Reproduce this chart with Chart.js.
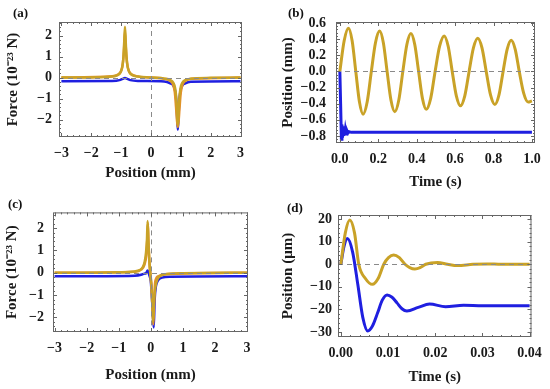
<!doctype html>
<html>
<head>
<meta charset="utf-8" />
<title>Force and position</title>
<script src="https://cdn.jsdelivr.net/npm/chart.js"></script>
<style>
body{margin:0;background:#fff;width:550px;height:389px;position:relative;overflow:hidden;font-family:"Liberation Serif",serif}
.panel{position:absolute}
.lab{position:absolute;font-weight:bold;font-size:13px;color:#111;line-height:1}
</style>
</head>
<body>
<div class="panel" style="left:0;top:0;width:275px;height:195px"><canvas id="ca"></canvas></div>
<div class="panel" style="left:275px;top:0;width:275px;height:195px"><canvas id="cb"></canvas></div>
<div class="panel" style="left:0;top:195px;width:275px;height:194px"><canvas id="cc"></canvas></div>
<div class="panel" style="left:275px;top:195px;width:275px;height:194px"><canvas id="cd"></canvas></div>
<div class="lab" style="left:13px;top:6px">(a)</div>
<div class="lab" style="left:288px;top:6px">(b)</div>
<div class="lab" style="left:8px;top:197px">(c)</div>
<div class="lab" style="left:287px;top:201px">(d)</div>
<script>
// ---- panel (a): force vs position, magnets at +/-0.9 mm
const posA_gold = [-3, -2, -1.3, -1.12, -1.02, -0.96, -0.92, -0.895, -0.87, -0.845, -0.82, -0.78, -0.72, -0.62, -0.44, 0, 0.47, 0.65, 0.75, 0.81, 0.85, 0.875, 0.9, 0.925, 0.95, 0.99, 1.05, 1.15, 1.33, 2, 3];
const forceA_gold = [0, 0.01, 0.05, 0.12, 0.25, 0.5, 1.0, 1.7, 2.42, 1.7, 1.0, 0.5, 0.25, 0.12, 0.05, 0, -0.05, -0.12, -0.25, -0.5, -1.0, -1.7, -2.28, -1.7, -1.0, -0.5, -0.25, -0.12, -0.05, -0.01, 0];
const posA_orange = [-3, -1.3, -1.1, -1.0, -0.94, -0.9, -0.87, -0.84, -0.8, -0.74, -0.64, -0.44, 0.44, 0.64, 0.74, 0.8, 0.84, 0.87, 0.9, 0.93, 0.96, 1.0, 1.06, 1.16, 1.36, 3];
const forceA_orange = [0, 0.06, 0.15, 0.32, 0.7, 1.4, 2.2, 1.4, 0.7, 0.32, 0.15, 0.06, -0.06, -0.15, -0.32, -0.7, -1.4, -2.0, -2.35, -2.0, -1.4, -0.7, -0.32, -0.15, -0.06, 0];
const posA_blue = [-3, -1.3, -1.05, -0.95, -0.87, -0.79, -0.69, -0.44, 0.44, 0.65, 0.75, 0.81, 0.85, 0.875, 0.9, 0.925, 0.95, 0.99, 1.05, 1.15, 1.33, 3];
const forceA_blue = [-0.17, -0.16, -0.12, -0.06, -0.02, -0.06, -0.12, -0.16, -0.18, -0.27, -0.38, -0.62, -1.1, -1.8, -2.48, -1.8, -1.1, -0.62, -0.38, -0.27, -0.2, -0.17];

// ---- panel (b): position vs time
const timeB_gold = [0, 0.0225, 0.045, 0.064, 0.083, 0.102, 0.121, 0.1425, 0.164, 0.1855, 0.207, 0.2265, 0.246, 0.266, 0.286, 0.307, 0.328, 0.349, 0.37, 0.39, 0.41, 0.43, 0.45, 0.473, 0.496, 0.5195, 0.543, 0.564, 0.585, 0.6065, 0.628, 0.6505, 0.673, 0.6955, 0.718, 0.74, 0.762, 0.7845, 0.807, 0.8285, 0.85, 0.871, 0.892, 0.913, 0.934, 0.957, 0.98, 1.0];
const posB_gold = [0, 0.38, 0.535, 0.38, 0, -0.376, -0.53, -0.376, 0, 0.355, 0.50, 0.355, 0, -0.355, -0.50, -0.355, 0, 0.334, 0.47, 0.334, 0, -0.334, -0.47, -0.334, 0, 0.312, 0.44, 0.312, 0, -0.302, -0.425, -0.302, 0, 0.291, 0.41, 0.291, 0, -0.291, -0.41, -0.291, 0, 0.273, 0.385, 0.273, 0, -0.27, -0.38, -0.365];
const timeB_blue = [0, 0.004, 0.008, 0.011, 0.014, 0.017, 0.02, 0.023, 0.026, 0.029, 0.033, 0.037, 0.042, 0.048, 0.06, 1.0];
const posB_blue = [0, -0.4, -0.84, -0.66, -0.82, -0.68, -0.8, -0.7, -0.78, -0.72, -0.775, -0.735, -0.765, -0.748, -0.755, -0.755];

// ---- panel (c): force vs position, magnets near centre
const posC_gold = [-3, -1, -0.5, -0.35, -0.25, -0.19, -0.15, -0.12, -0.1, -0.08, -0.05, -0.02, 0.02, 0.05, 0.07, 0.09, 0.12, 0.16, 0.22, 0.32, 0.5, 1, 3];
const forceC_gold = [0, 0.02, 0.06, 0.12, 0.25, 0.5, 0.9, 1.5, 2.31, 1.5, 0.6, 0, -0.6, -1.5, -2.19, -1.5, -0.9, -0.5, -0.25, -0.12, -0.06, -0.02, 0];
const posC_orange = [-3, -0.5, -0.3, -0.2, -0.14, -0.11, -0.09, -0.07, -0.04, 0, 0.04, 0.08, 0.1, 0.13, 0.18, 0.25, 0.4, 3];
const forceC_orange = [0, 0.05, 0.14, 0.35, 0.8, 1.5, 2.2, 1.3, 0.4, -0.2, -1.2, -2.3, -1.4, -0.5, -0.22, -0.15, -0.07, 0];
const posC_blue = [-3, -0.5, -0.3, -0.2, -0.15, -0.1, -0.05, 0, 0.05, 0.09, 0.12, 0.16, 0.22, 0.35, 0.6, 3];
const forceC_blue = [-0.16, -0.13, -0.09, -0.04, -0.02, 0.1, -0.1, -0.4, -1.5, -2.45, -1.2, -0.6, -0.35, -0.22, -0.18, -0.16];

// ---- panel (d): position (um) vs time, short time scale
const timeD_gold = [0, 0.00095, 0.0019, 0.0029, 0.0038, 0.0052, 0.0067, 0.0079, 0.0091, 0.0101, 0.0112, 0.0124, 0.0136, 0.0146, 0.0157, 0.0168, 0.018, 0.0205, 0.0226, 0.0247, 0.028, 0.031, 0.034, 0.04];
const posD_gold = [0, 13.9, 19.6, 13.9, 0, -6.3, -8.9, -6.3, 0, 2.9, 4.1, 2.9, 0, -1.5, -2.1, -1.5, 0, 0.8, 0, -0.6, 0, 0.15, 0, 0];
const timeD_blue = [0, 0.0007, 0.0014, 0.0025, 0.0036, 0.00465, 0.0057, 0.00673, 0.0078, 0.00878, 0.0098, 0.01085, 0.0119, 0.01295, 0.014, 0.0164, 0.0188, 0.0222, 0.026, 0.03, 0.04];
const posD_blue = [0, 8.1, 11.4, 5.4, -9, -23.5, -29.5, -27.2, -21.5, -15.9, -13.6, -14.6, -17.1, -19.7, -20.7, -19.1, -17.6, -18.8, -18.1, -18.4, -18.4];

// tick labels
const ticksForcePos = [-3, -2, -1, 0, 1, 2, 3];
const ticksForce = [-2, -1, 0, 1, 2];
const ticksTimeB = [0, 0.2, 0.4, 0.6, 0.8, 1.0];
const ticksPosB = [-0.8, -0.6, -0.4, -0.2, 0, 0.2, 0.4, 0.6];
const ticksTimeD = [0, 0.01, 0.02, 0.03, 0.04];
const ticksPosD = [-30, -20, -10, 0, 10, 20];

const GOLD = '#c9a227', ORANGE = '#e8902a', BLUE = '#1f1fe0';
const FONT = { family: '"Liberation Serif", "Times New Roman", serif', size: 14, weight: 'bold' };
const TFONT = { family: '"Liberation Serif", "Times New Roman", serif', size: 15, weight: 'bold' };

function pts(xs, ys) { return xs.map((x, i) => ({ x, y: ys[i] })); }
function minus(s) { return s.replace('-', '\u2212'); }

// frame with inward ticks + dashed zero lines, Mathematica style
const framePlugin = {
  id: 'frame',
  afterDatasetsDraw(chart, args, o) {
    const { ctx, chartArea: a, scales: { x, y } } = chart;
    ctx.save();
    ctx.strokeStyle = '#8a8a8a';
    ctx.lineWidth = 1;
    ctx.setLineDash([5, 4]);
    const y0 = Math.round(y.getPixelForValue(0)) + 0.5;
    ctx.beginPath(); ctx.moveTo(a.left, y0); ctx.lineTo(a.right, y0); ctx.stroke();
    if (o.vline) {
      const x0 = Math.round(x.getPixelForValue(0)) + 0.5;
      ctx.beginPath(); ctx.moveTo(x0, a.top); ctx.lineTo(x0, a.bottom); ctx.stroke();
    }
    ctx.setLineDash([]);
    ctx.strokeStyle = '#666';
    ctx.strokeRect(a.left + 0.5, a.top + 0.5, a.right - a.left - 1, a.bottom - a.top - 1);
    const tick = (scale, vals, len, horiz) => {
      vals.forEach(v => {
        const p = Math.round(scale.getPixelForValue(v)) + 0.5;
        ctx.beginPath();
        if (horiz) {
          if (p < a.left || p > a.right) return;
          ctx.moveTo(p, a.bottom); ctx.lineTo(p, a.bottom - len);
          ctx.moveTo(p, a.top); ctx.lineTo(p, a.top + len);
        } else {
          if (p < a.top || p > a.bottom) return;
          ctx.moveTo(a.left, p); ctx.lineTo(a.left + len, p);
          ctx.moveTo(a.right, p); ctx.lineTo(a.right - len, p);
        }
        ctx.stroke();
      });
    };
    const minors = (vals, n) => {
      const out = [];
      for (let i = -1; i < vals.length; i++)
        for (let k = 1; k < n; k++) out.push(vals[0] + (i + k / n) * (vals[1] - vals[0]));
      return out;
    };
    tick(x, o.xt, 4, true); tick(x, minors(o.xt, 5), 2, true);
    tick(y, o.yt, 4, false); tick(y, minors(o.yt, 5), 2, false);
    ctx.restore();
  }
};

function panel(id, p) {
  new Chart(document.getElementById(id), {
    type: 'line',
    data: { datasets: p.sets },
    plugins: [framePlugin],
    options: {
      responsive: true, maintainAspectRatio: false, animation: false,
      layout: { padding: { left: 0, top: p.top, right: p.right, bottom: 0 } },
      elements: { point: { radius: 0 }, line: { borderWidth: p.lw, cubicInterpolationMode: 'monotone' } },
      plugins: { legend: { display: false }, tooltip: { enabled: false }, frame: { vline: p.vline, xt: p.xt, yt: p.yt } },
      scales: {
        x: {
          type: 'linear', min: p.xmin, max: p.xmax,
          afterBuildTicks: s => { s.ticks = p.xt.map(v => ({ value: v })); },
          afterFit: s => { s.height = p.h; },
          grid: { display: false, drawTicks: false }, border: { display: false },
          ticks: { font: FONT, color: '#1a1a1a', padding: 8, autoSkip: false, maxRotation: 0, callback: p.xf },
          title: { display: true, text: p.xtitle, font: TFONT, color: '#1a1a1a', padding: { top: 0, bottom: p.xtp } }
        },
        y: {
          type: 'linear', min: p.ymin, max: p.ymax,
          afterBuildTicks: s => { s.ticks = p.yt.map(v => ({ value: v })); },
          afterFit: s => { s.width = p.w; },
          grid: { display: false, drawTicks: false }, border: { display: false },
          ticks: { font: FONT, color: '#1a1a1a', padding: p.ytpad, autoSkip: false, callback: p.yf },
          title: { display: true, text: p.ytitle, font: TFONT, color: '#1a1a1a', padding: { top: p.ytp, bottom: 0 } }
        }
      }
    }
  });
}

const intFmt = v => minus(String(v));
const forceTitle = 'Force (10\u207B\u00B2\u00B3 N)';

panel('ca', {
  sets: [
    { data: pts(posA_gold, forceA_gold), borderColor: GOLD },
    { data: pts(posA_orange, forceA_orange), borderColor: ORANGE },
    { data: pts(posA_blue, forceA_blue), borderColor: BLUE }
  ],
  lw: 2.5, top: 22, right: 33, w: 59, h: 58, vline: true,
  xmin: -3.08, xmax: 3.05, ymin: -2.83, ymax: 2.65,
  xt: ticksForcePos, yt: ticksForce, xf: intFmt, yf: intFmt,
  xtitle: 'Position (mm)', ytitle: forceTitle, xtp: 13, ytp: 4, ytpad: 7
});

panel('cb', {
  sets: [
    { data: pts(timeB_gold, posB_gold), borderColor: GOLD },
    { data: pts(timeB_blue, posB_blue), borderColor: BLUE, cubicInterpolationMode: 'default', tension: 0 }
  ],
  lw: 3, top: 22, right: 15, w: 61, h: 52, vline: false,
  xmin: -0.02, xmax: 1.016, ymin: -0.887, ymax: 0.612,
  xt: ticksTimeB, yt: ticksPosB, xf: v => v.toFixed(1), yf: v => minus(v.toFixed(1)),
  xtitle: 'Time (s)', ytitle: 'Position (mm)', xtp: 4, ytp: 4, ytpad: 10
});

panel('cc', {
  sets: [
    { data: pts(posC_gold, forceC_gold), borderColor: GOLD },
    { data: pts(posC_orange, forceC_orange), borderColor: ORANGE },
    { data: pts(posC_blue, forceC_blue), borderColor: BLUE }
  ],
  lw: 2.5, top: 17, right: 27, w: 53, h: 57, vline: true,
  xmin: -3.05, xmax: 3.03, ymin: -2.65, ymax: 2.7,
  xt: ticksForcePos, yt: ticksForce, xf: intFmt, yf: intFmt,
  xtitle: 'Position (mm)', ytitle: forceTitle, xtp: 5, ytp: 3, ytpad: 9
});

panel('cd', {
  sets: [
    { data: pts(timeD_gold, posD_gold), borderColor: GOLD },
    { data: pts(timeD_blue, posD_blue), borderColor: BLUE }
  ],
  lw: 3, top: 20, right: 14, w: 63, h: 52, vline: false,
  xmin: -0.0006, xmax: 0.0404, ymin: -32.2, ymax: 21.8,
  xt: ticksTimeD, yt: ticksPosD, xf: v => v.toFixed(2), yf: intFmt,
  xtitle: 'Time (s)', ytitle: 'Position (\u03BCm)', xtp: 3, ytp: 4, ytpad: 6
});
</script>
</body>
</html>
